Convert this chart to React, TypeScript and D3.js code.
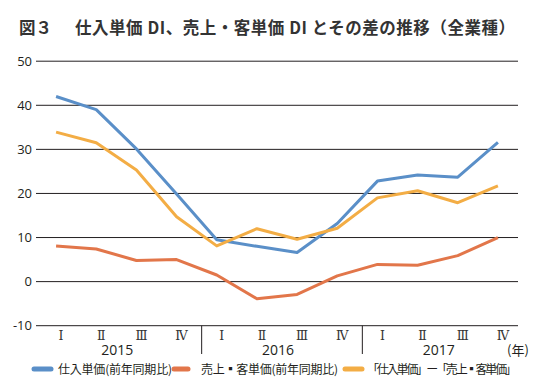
import { useEffect, useRef } from "react";
import * as d3 from "d3";

const quarters = ["Ⅰ", "Ⅱ", "Ⅲ", "Ⅳ", "Ⅰ", "Ⅱ", "Ⅲ", "Ⅳ", "Ⅰ", "Ⅱ", "Ⅲ", "Ⅳ"];
const years = ["2015", "2016", "2017"];
const yTicks = [-10, 0, 10, 20, 30, 40, 50];

// 仕入単価(前年同期比)
const shiire = [42, 39, 30.1, 19.9, 9.5, 8.0, 6.6, 13.2, 22.8, 24.2, 23.7, 31.6];
// 売上・客単価(前年同期比)
const uriage = [8.1, 7.4, 4.8, 5.0, 1.5, -3.9, -2.9, 1.3, 3.9, 3.7, 5.9, 10.0];
// 差
const sa = [33.9, 31.5, 25.3, 14.7, 8.1, 12.0, 9.6, 12.1, 19.0, 20.6, 17.9, 21.7];

const seriesNames = [
  "仕入単価(前年同期比)",
  "売上▪客単価(前年同期比)",
  "「仕入単価」ー「売上▪客単価」",
];
const colors = ["#5a8fc8", "#e2764a", "#f3ad45"];

const App = () => {
  const svgRef = useRef(null);

  useEffect(() => {
    const svg = d3.select(svgRef.current);
    svg.selectAll("*").remove();
    const width = 544;
    const height = 391;
    const margin = { top: 61.2, right: 26, bottom: 65.3, left: 36 };
    const jp = "'Noto Sans CJK JP', 'Noto Sans', sans-serif";
    const num = "'Open Sans', 'Noto Sans', sans-serif";
    const ink = "#231f20";

    svg.attr("width", width).attr("height", height);
    svg.append("rect").attr("width", width).attr("height", height).attr("fill", "#fff");

    const idx = quarters.map((_, i) => i);
    const x = d3
      .scaleBand<number>()
      .domain(idx)
      .range([margin.left, width - margin.right])
      .padding(0);
    const bw = x.bandwidth();
    const cx = (i: number) => (x(i) as number) + bw / 2;
    const y = d3
      .scaleLinear()
      .domain([-10, 50])
      .range([height - margin.bottom, margin.top]);

    // title
    svg
      .append("text")
      .attr("x", 19)
      .attr("y", 34)
      .attr("font-family", jp)
      .attr("font-size", 16.5)
      .attr("font-weight", 700)
      .attr("fill", "#333")
      .text("図３");
    svg
      .append("text")
      .attr("x", 75)
      .attr("y", 34)
      .attr("font-family", jp)
      .attr("font-size", 16.5)
      .attr("font-weight", 700)
      .attr("fill", "#333")
      .attr("textLength", 440)
      .text("仕入単価 DI、売上・客単価 DI とその差の推移（全業種）");

    // gridlines
    svg
      .append("g")
      .selectAll("line")
      .data(yTicks)
      .join("line")
      .attr("x1", margin.left)
      .attr("x2", width - margin.right)
      .attr("y1", (d) => y(d))
      .attr("y2", (d) => y(d))
      .attr("stroke", ink)
      .attr("stroke-width", 1);

    svg
      .append("g")
      .selectAll("text")
      .data(yTicks)
      .join("text")
      .attr("x", 32)
      .attr("y", (d) => y(d) + 4.5)
      .attr("text-anchor", "end")
      .attr("font-family", num)
      .attr("font-size", 13)
      .attr("fill", ink)
      .text((d) => d);

    // x axis labels, shifted a bit right like the original
    const shift = 5;
    svg
      .append("g")
      .selectAll("text")
      .data(quarters)
      .join("text")
      .attr("x", (_, i) => cx(i) + shift)
      .attr("y", 340)
      .attr("text-anchor", "middle")
      .attr("font-family", "'DejaVu Serif', 'Liberation Serif', serif")
      .attr("font-size", 12.5)
      .attr("fill", "#333")
      .text((d) => d);

    svg
      .append("g")
      .selectAll("line")
      .data([4, 8])
      .join("line")
      .attr("x1", (d) => (x(d) as number) + shift)
      .attr("x2", (d) => (x(d) as number) + shift)
      .attr("y1", y(-10))
      .attr("y2", 354)
      .attr("stroke", ink)
      .attr("stroke-width", 1);

    svg
      .append("g")
      .selectAll("text")
      .data(years)
      .join("text")
      .attr("x", (_, i) => ((x(i * 4) as number) + (x(i * 4 + 3) as number) + bw) / 2 + 1)
      .attr("y", 355)
      .attr("text-anchor", "middle")
      .attr("font-family", num)
      .attr("font-size", 14)
      .attr("fill", ink)
      .text((d) => d);

    svg
      .append("text")
      .attr("x", 507)
      .attr("y", 355)
      .attr("font-family", jp)
      .attr("font-size", 13)
      .attr("fill", ink)
      .text("(年)");

    // lines
    const line = d3
      .line<number>()
      .x((_, i) => cx(i))
      .y((d) => y(d));
    [shiire, uriage, sa].forEach((s, k) => {
      svg
        .append("path")
        .datum(s)
        .attr("d", line)
        .attr("fill", "none")
        .attr("stroke", colors[k])
        .attr("stroke-width", 3)
        .attr("stroke-linejoin", "round");
    });

    // legend
    const legend = [
      { x0: 34, x1: 51, tx: 58, tw: 114 },
      { x0: 174, x1: 188, tx: 201, tw: 137 },
      { x0: 345, x1: 362, tx: 367, tw: 150 },
    ];
    legend.forEach((l, k) => {
      svg
        .append("line")
        .attr("x1", l.x0)
        .attr("x2", l.x1)
        .attr("y1", 369)
        .attr("y2", 369)
        .attr("stroke", colors[k])
        .attr("stroke-width", 5)
        .attr("stroke-linecap", "round");
      svg
        .append("text")
        .attr("x", l.tx)
        .attr("y", 373.5)
        .attr("font-family", jp)
        .attr("font-size", 12)
        .attr("fill", ink)
        .attr("textLength", l.tw)
        .text(seriesNames[k]);
    });
  }, []);

  return (
    <svg
      ref={svgRef}
      style={{ position: "absolute", left: 0, top: 0, display: "block" }}
    ></svg>
  );
};

export default App;
